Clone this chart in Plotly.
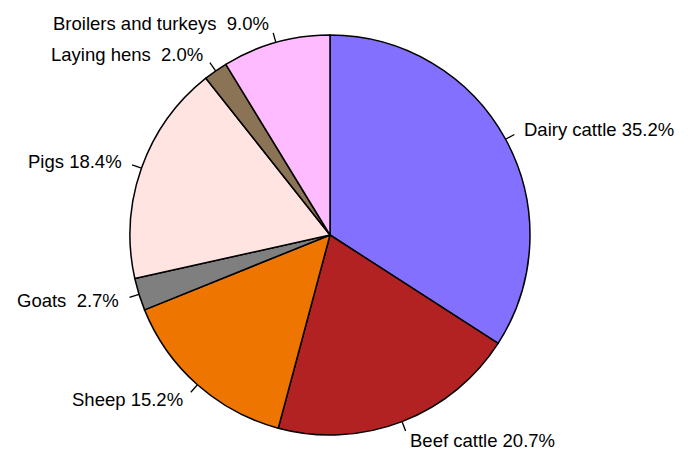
import math
import plotly.graph_objects as go

# Livestock categories and their shares (%)
categories = ["Dairy cattle", "Beef cattle", "Sheep", "Goats", "Pigs",
              "Laying hens", "Broilers and turkeys"]
shares = [35.2, 20.7, 15.2, 2.7, 18.4, 2.0, 9.0]
colors = ["#8470FF", "#B22222", "#EE7600", "#7F7F7F", "#FFE4E1",
          "#8B7355", "#FFBBFF"]

W, H = 688, 449
CX, CY, R = 330, 235, 200  # pie centre and radius in pixels

fig = go.Figure(go.Pie(
    labels=categories,
    values=shares,
    sort=False,
    direction="clockwise",
    rotation=0,
    textinfo="none",
    hoverinfo="label+value",
    marker=dict(colors=colors, line=dict(color="black", width=1.5)),
    domain=dict(x=[(CX - R) / W, (CX + R) / W],
                y=[(H - CY - R) / H, (H - CY + R) / H]),
    showlegend=False,
))

# Outside labels with short tick marks at each slice's mid-angle
total = sum(shares)
cum = 0.0
annotations, shapes = [], []
for name, v in zip(categories, shares):
    mid = (cum + v / 2) / total * 2 * math.pi  # clockwise from 12 o'clock
    cum += v
    sx, cy = math.sin(mid), math.cos(mid)

    def px(f):
        return CX + f * R * sx, CY - f * R * cy

    x0, y0 = px(1.0)
    x1, y1 = px(1.05)
    tx, ty = px(1.1)
    shapes.append(dict(type="line", xref="paper", yref="paper",
                       x0=x0 / W, y0=1 - y0 / H, x1=x1 / W, y1=1 - y1 / H,
                       line=dict(color="black", width=1.3)))
    label = f"{name} {v:4.1f}%".replace(" ", "\u00a0")
    annotations.append(dict(
        x=tx / W, y=1 - ty / H, xref="paper", yref="paper",
        text=label, showarrow=False,
        xanchor="left" if sx > 0 else "right", yanchor="middle",
        font=dict(family="Liberation Sans, Arial, sans-serif", size=18.5,
                  color="black"),
        borderpad=0,
    ))

fig.update_layout(
    width=W, height=H,
    margin=dict(l=0, r=0, t=0, b=0),
    paper_bgcolor="white", plot_bgcolor="white",
    annotations=annotations, shapes=shapes,
)

fig.write_html("out.html")
